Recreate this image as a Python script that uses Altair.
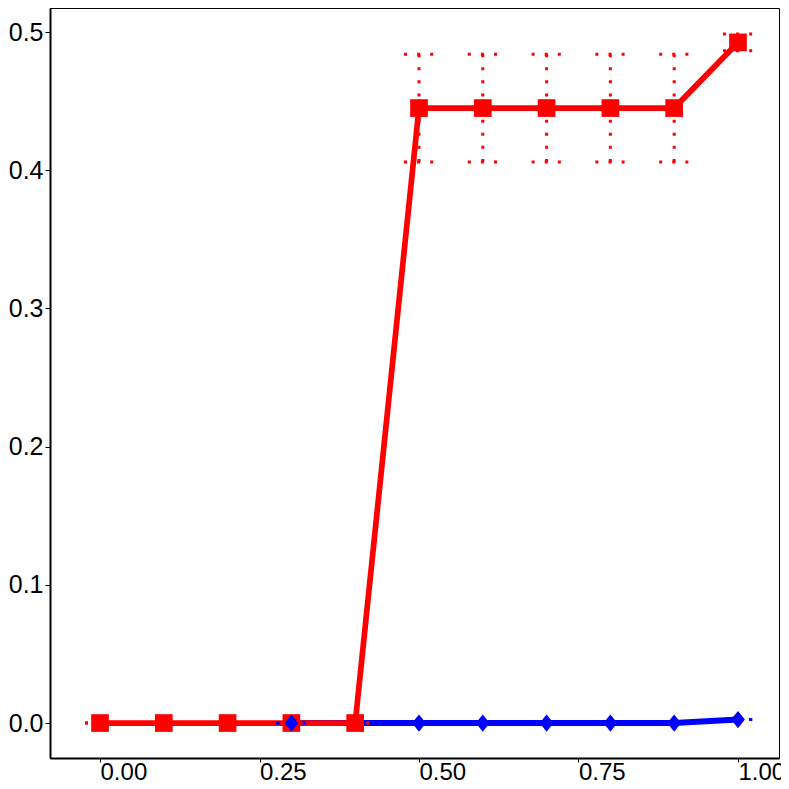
import altair as alt
import pandas as pd

# ---- data ----
red_x = [0.0, 0.1, 0.2, 0.3, 0.4, 0.5, 0.6, 0.7, 0.8, 0.9, 1.0]
red_y = [0.0, 0.0, 0.0, 0.0, 0.0, 0.445, 0.445, 0.445, 0.445, 0.445, 0.4925]
red_err = [0.0, 0.0, 0.0, 0.0, 0.0, 0.039, 0.039, 0.039, 0.039, 0.039, 0.006]

blue_x = [0.3, 0.5, 0.6, 0.7, 0.8, 0.9, 1.0]
blue_y = [0.0, 0.0, 0.0, 0.0, 0.0, 0.0, 0.0025]
blue_err = [0.0, 0.0, 0.0, 0.0, 0.0, 0.0, 0.0]

x_ticks = [0.0, 0.25, 0.5, 0.75, 1.0]
y_ticks = [0.0, 0.1, 0.2, 0.3, 0.4, 0.5]
cap_half = 0.0235

RED = "#FF0000"
BLUE = "#0000FF"
FONT = "Liberation Sans"

red = pd.DataFrame({"x": red_x, "y": red_y, "err": red_err})
blue = pd.DataFrame({"x": blue_x, "y": blue_y, "err": blue_err})

xs = alt.Scale(domain=[-0.0784, 1.0643], nice=False, zero=False)
ys = alt.Scale(domain=[-0.0253, 0.5174], nice=False, zero=False)

x_axis = alt.Axis(values=x_ticks, format=".2f", title=None, grid=False,
                  labelAlign="left", labelFlush=False, labelOverlap=False,
                  labelBound=False, tickSize=4, labelPadding=-2,
                  labelFontSize=24)
y_axis = alt.Axis(values=y_ticks, format=".1f", title=None, grid=False,
                  tickSize=5, labelPadding=2, labelOverlap=False,
                  labelFlush=False, labelFontSize=25)


def X(field):
    return alt.X(field, scale=xs, axis=x_axis)


def Y(field):
    return alt.Y(field, scale=ys, axis=y_axis)


def line_layer(df, color, width):
    return alt.Chart(df).mark_line(color=color, strokeWidth=width).encode(
        x=X("x:Q"), y=Y("y:Q"),
    )


def err_layers(df, color):
    base = alt.Chart(df).transform_calculate(
        lo="datum.y - datum.err",
        hi="datum.y + datum.err",
        xl=f"datum.x - {cap_half}",
        xr=f"datum.x + {cap_half}",
    )
    dash = [3, 10.1]
    vert = base.mark_rule(color=color, strokeWidth=3, strokeDash=dash).encode(
        x=X("x:Q"), y=Y("hi:Q"), y2="lo:Q",
    )
    cap_top = base.mark_rule(color=color, strokeWidth=3, strokeDash=dash).encode(
        x=X("xl:Q"), x2="xr:Q", y=Y("hi:Q"),
    )
    cap_bot = base.mark_rule(color=color, strokeWidth=3, strokeDash=dash).encode(
        x=X("xl:Q"), x2="xr:Q", y=Y("lo:Q"),
    )
    return [vert, cap_top, cap_bot]


red_pts = alt.Chart(red).mark_point(shape="square", filled=True, size=313,
                                    color=RED, opacity=1).encode(
    x=X("x:Q"), y=Y("y:Q"),
)
blue_pts = alt.Chart(blue).mark_point(shape="M-0.8,0L0,-1L0.8,0L0,1Z", filled=True,
                                      size=300, color=BLUE, opacity=1).encode(
    x=X("x:Q"), y=Y("y:Q"),
)

layers = [line_layer(blue, BLUE, 6), line_layer(red, RED, 5.7)]
layers += err_layers(red, RED) + err_layers(blue, BLUE)
layers += [red_pts, blue_pts]

chart = alt.layer(*layers).properties(
    width=729,
    height=750,
    autosize=alt.AutoSizeParams(type="none"),
    padding={"left": 42, "top": 0, "right": 2, "bottom": 23},
).configure_view(
    stroke="black", strokeWidth=1
).configure_axis(
    domainColor="black", domainWidth=2, tickColor="black", tickWidth=1,
    labelColor="black", labelFont=FONT,
)

chart.save("out.html", embed_options={"renderer": "svg", "actions": False})
